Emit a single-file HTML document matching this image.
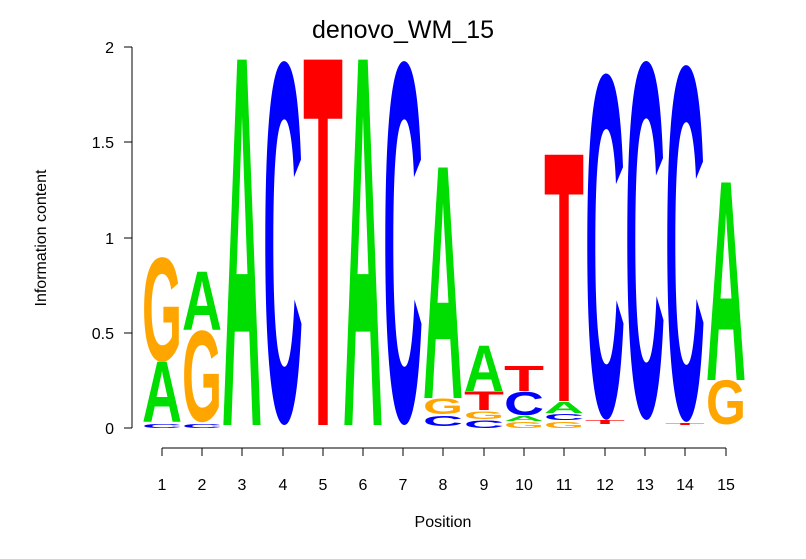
<!DOCTYPE html>
<html><head><meta charset="utf-8"><style>
body{margin:0;background:#fff}
svg{display:block;font-family:"Liberation Sans",sans-serif}
.l{font-family:"Liberation Sans",sans-serif;font-weight:bold;font-size:100px}
</style></head><body>
<svg width="806" height="559" viewBox="0 0 806 559" xmlns="http://www.w3.org/2000/svg">
<rect width="806" height="559" fill="#fff"/>
<text x="403" y="38" font-size="25" text-anchor="middle">denovo_WM_15</text>
<g stroke="#000" stroke-width="1" fill="none">
<line x1="132" y1="47" x2="132" y2="428"/>
<line x1="124" y1="428" x2="132" y2="428"/>
<line x1="124" y1="333" x2="132" y2="333"/>
<line x1="124" y1="238" x2="132" y2="238"/>
<line x1="124" y1="142" x2="132" y2="142"/>
<line x1="124" y1="47" x2="132" y2="47"/>
<line x1="162" y1="448" x2="726" y2="448"/>
<line x1="162" y1="448" x2="162" y2="456"/><line x1="202" y1="448" x2="202" y2="456"/><line x1="242" y1="448" x2="242" y2="456"/><line x1="283" y1="448" x2="283" y2="456"/><line x1="323" y1="448" x2="323" y2="456"/><line x1="363" y1="448" x2="363" y2="456"/><line x1="403" y1="448" x2="403" y2="456"/><line x1="443" y1="448" x2="443" y2="456"/><line x1="484" y1="448" x2="484" y2="456"/><line x1="524" y1="448" x2="524" y2="456"/><line x1="564" y1="448" x2="564" y2="456"/><line x1="605" y1="448" x2="605" y2="456"/><line x1="645" y1="448" x2="645" y2="456"/><line x1="685" y1="448" x2="685" y2="456"/><line x1="726" y1="448" x2="726" y2="456"/>
</g>
<g font-size="16" text-anchor="end">
<text x="114" y="434">0</text><text x="114" y="339">0.5</text><text x="114" y="244">1</text><text x="114" y="148">1.5</text><text x="114" y="53">2</text>
</g>
<g font-size="16" text-anchor="middle">
<text x="162" y="490">1</text><text x="202" y="490">2</text><text x="242" y="490">3</text><text x="283" y="490">4</text><text x="323" y="490">5</text><text x="363" y="490">6</text><text x="403" y="490">7</text><text x="443" y="490">8</text><text x="484" y="490">9</text><text x="524" y="490">10</text><text x="564" y="490">11</text><text x="605" y="490">12</text><text x="645" y="490">13</text><text x="685" y="490">14</text><text x="726" y="490">15</text>
<text x="443" y="527">Position</text>
<text transform="translate(46,238) rotate(-90)">Information content</text>
</g>
<g class="l">
<!-- col1 -->
<text fill="#0000ff" transform="translate(142,428) scale(1,0.05)" textLength="40" lengthAdjust="spacingAndGlyphs">C</text>
<text fill="#00dd00" transform="translate(142,422) scale(1,0.87)" textLength="40" lengthAdjust="spacingAndGlyphs">A</text>
<text fill="#ffa500" transform="translate(142,360.5) scale(1,1.48)" textLength="40" lengthAdjust="spacingAndGlyphs">G</text>
<!-- col2 -->
<text fill="#0000ff" transform="translate(182,428) scale(1,0.05)" textLength="40" lengthAdjust="spacingAndGlyphs">C</text>
<text fill="#ffa500" transform="translate(182,421) scale(1,1.30)" textLength="40" lengthAdjust="spacingAndGlyphs">G</text>
<text fill="#00dd00" transform="translate(182,330) scale(1,0.84)" textLength="40" lengthAdjust="spacingAndGlyphs">A</text>
<!-- col3-7 -->
<text fill="#00dd00" transform="translate(222,425) scale(1,5.31)" textLength="40" lengthAdjust="spacingAndGlyphs">A</text>
<text fill="#0000ff" transform="translate(263,420) scale(1,5.14)" textLength="40" lengthAdjust="spacingAndGlyphs">C</text>
<text fill="#ff0000" transform="translate(303,425) scale(1,5.31)" textLength="40" lengthAdjust="spacingAndGlyphs">T</text>
<text fill="#00dd00" transform="translate(343,425) scale(1,5.31)" textLength="40" lengthAdjust="spacingAndGlyphs">A</text>
<text fill="#0000ff" transform="translate(383,420) scale(1,5.14)" textLength="40" lengthAdjust="spacingAndGlyphs">C</text>
<!-- col8 -->
<text fill="#0000ff" transform="translate(423,426) scale(1,0.15)" textLength="40" lengthAdjust="spacingAndGlyphs">C</text>
<text fill="#ffa500" transform="translate(423,414) scale(1,0.22)" textLength="40" lengthAdjust="spacingAndGlyphs">G</text>
<text fill="#00dd00" transform="translate(423,398) scale(1,3.35)" textLength="40" lengthAdjust="spacingAndGlyphs">A</text>
<!-- col9 -->
<text fill="#0000ff" transform="translate(464,428) scale(1,0.11)" textLength="40" lengthAdjust="spacingAndGlyphs">C</text>
<text fill="#ffa500" transform="translate(464,419) scale(1,0.11)" textLength="40" lengthAdjust="spacingAndGlyphs">G</text>
<text fill="#ff0000" transform="translate(464,410) scale(1,0.27)" textLength="40" lengthAdjust="spacingAndGlyphs">T</text>
<text fill="#00dd00" transform="translate(464,391) scale(1,0.655)" textLength="40" lengthAdjust="spacingAndGlyphs">A</text>
<!-- col10 -->
<text fill="#ffa500" transform="translate(504,428) scale(1,0.08)" textLength="40" lengthAdjust="spacingAndGlyphs">G</text>
<text fill="#00dd00" transform="translate(504,421) scale(1,0.07)" textLength="40" lengthAdjust="spacingAndGlyphs">A</text>
<text fill="#0000ff" transform="translate(504,415) scale(1,0.33)" textLength="40" lengthAdjust="spacingAndGlyphs">C</text>
<text fill="#ff0000" transform="translate(504,391) scale(1,0.36)" textLength="40" lengthAdjust="spacingAndGlyphs">T</text>
<!-- col11 -->
<text fill="#ffa500" transform="translate(544,428) scale(1,0.08)" textLength="40" lengthAdjust="spacingAndGlyphs">G</text>
<text fill="#0000ff" transform="translate(544,420) scale(1,0.08)" textLength="40" lengthAdjust="spacingAndGlyphs">C</text>
<text fill="#00dd00" transform="translate(544,413) scale(1,0.16)" textLength="40" lengthAdjust="spacingAndGlyphs">A</text>
<text fill="#ff0000" transform="translate(544,401) scale(1,3.58)" textLength="40" lengthAdjust="spacingAndGlyphs">T</text>
<!-- col12 -->
<text fill="#ff0000" transform="translate(585,424) scale(1,0.05)" textLength="40" lengthAdjust="spacingAndGlyphs">T</text>
<text fill="#0000ff" transform="translate(585,415) scale(1,4.89)" textLength="40" lengthAdjust="spacingAndGlyphs">C</text>
<!-- col13 -->
<text fill="#0000ff" transform="translate(625,415) scale(1,5.07)" textLength="40" lengthAdjust="spacingAndGlyphs">C</text>
<!-- col14 -->
<text fill="#ff0000" transform="translate(665,425) scale(1,0.03)" textLength="40" lengthAdjust="spacingAndGlyphs">T</text>
<text fill="#0000ff" transform="translate(665,417) scale(1,5.04)" textLength="40" lengthAdjust="spacingAndGlyphs">C</text>
<!-- col15 -->
<text fill="#ffa500" transform="translate(706,424) scale(1,0.63)" textLength="40" lengthAdjust="spacingAndGlyphs">G</text>
<text fill="#00dd00" transform="translate(706,380) scale(1,2.87)" textLength="40" lengthAdjust="spacingAndGlyphs">A</text>
</g>
</svg>
</body></html>
